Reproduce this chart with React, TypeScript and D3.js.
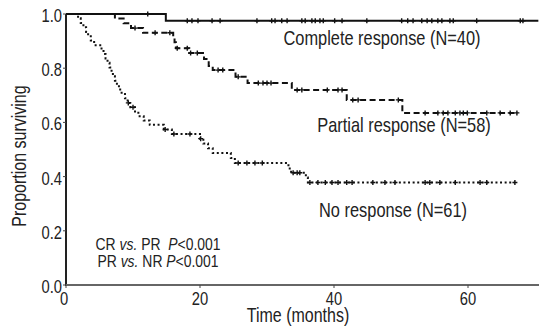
import React from 'react';
import * as d3 from 'd3';

// Kaplan-Meier step points [months, proportion surviving]
const crSteps: [number, number][] = [[0, 1], [14.9, 0.975]];
const crEnd = 70.5;
const crCensored = [12.2, 18.1, 18.8, 19.7, 21.8, 23.0, 28.5, 30.7, 31.2, 32.2, 33.0, 35.2, 35.7, 36.7, 37.2, 37.9, 38.4, 40.1, 41.2, 44.9, 50.1, 51.0, 51.8, 53.1, 53.9, 54.6, 55.5, 56.1, 57.3, 57.8, 61.3, 67.8, 68.2];

const prSteps: [number, number][] = [
  [0, 1], [7.3, 0.983], [8.6, 0.966], [9.7, 0.948], [11.5, 0.931], [16.0, 0.913], [16.2, 0.896],
  [16.4, 0.874], [18.4, 0.856], [20.6, 0.834], [21.3, 0.808], [21.9, 0.793], [25.3, 0.768],
  [27.1, 0.745], [33.7, 0.72], [41.9, 0.683], [50.2, 0.635],
];
const prEnd = 67.3;
const prCensored = [10.3, 13.3, 15.5, 16.6, 18.1, 18.6, 19.6, 22.7, 23.4, 25.7, 28.7, 29.4, 30.0, 30.6, 34.5, 35.2, 39.0, 40.6, 41.2, 42.8, 43.6, 49.6, 53.6, 55.5, 56.3, 57.0, 58.1, 58.8, 59.3, 59.9, 62.8, 64.8, 66.3, 67.3];

const nrSteps: [number, number][] = [
  [0, 1], [1.8, 0.984], [2.2, 0.967], [2.6, 0.951], [3.0, 0.934], [3.3, 0.918], [3.7, 0.902],
  [4.2, 0.885], [5.3, 0.869], [5.6, 0.852], [5.9, 0.836], [6.2, 0.82], [6.5, 0.803], [6.8, 0.787],
  [7.0, 0.77], [7.3, 0.754], [7.6, 0.738], [7.9, 0.721], [8.3, 0.705], [8.8, 0.689], [9.2, 0.672],
  [9.6, 0.656], [10.3, 0.64], [10.8, 0.623], [11.6, 0.607], [12.5, 0.591], [14.6, 0.574],
  [15.8, 0.557], [20.0, 0.54], [20.5, 0.522], [21.2, 0.505], [21.9, 0.487], [24.6, 0.469],
  [25.2, 0.45], [33.2, 0.43], [33.6, 0.414], [35.8, 0.397], [36.1, 0.378],
];
const nrEnd = 67.0;
const nrCensored = [9.3, 10.0, 14.8, 16.1, 18.5, 20.1, 25.7, 27.0, 28.2, 29.3, 33.9, 34.5, 34.9, 36.4, 37.6, 38.7, 39.7, 40.6, 41.9, 42.7, 45.8, 47.6, 49.1, 53.6, 54.3, 55.8, 58.1, 61.8, 62.8, 67.0];

const xTicks = [0, 20, 40, 60];
const yTicks = [0, 0.2, 0.4, 0.6, 0.8, 1.0];

const W = 539;
const H = 328;
const font = "'Liberation Sans', Arial, sans-serif";
const NARROW = 0.82; // condensed look of the original type

// text squeezed horizontally to mimic a condensed face
function Narrow({ x, y, size, rotate = 0, anchor = 'middle', children }: {
  x: number; y: number; size: number; rotate?: number; anchor?: string; children: React.ReactNode;
}) {
  return (
    <text transform={`translate(${x},${y}) rotate(${rotate}) scale(${NARROW},1)`}
      textAnchor={anchor} fontSize={size} fill="#222">
      {children}
    </text>
  );
}

export default function App() {
  const x = d3.scaleLinear().domain([0, 70]).range([66, 535]);
  const y = d3.scaleLinear().domain([0, 1]).range([285, 14]);

  const line = d3.line<[number, number]>()
    .x(d => x(d[0]))
    .y(d => y(d[1]))
    .curve(d3.curveStepAfter);

  const survAt = (steps: [number, number][], t: number) => {
    let s = 1;
    steps.forEach(([st, sv]) => { if (st <= t) s = sv; });
    return s;
  };

  const withEnd = (steps: [number, number][], end: number): [number, number][] =>
    [...steps, [end, steps[steps.length - 1][1]]];

  const curves = [
    { steps: prSteps, end: prEnd, censored: prCensored, dash: '6,3.5' },
    { steps: nrSteps, end: nrEnd, censored: nrCensored, dash: '2,2.6' },
    { steps: crSteps, end: crEnd, censored: crCensored, dash: null },
  ];

  return (
    <svg width={W} height={H} style={{ position: 'absolute', left: 0, top: 0, background: '#fff' }} fontFamily={font}>
      {/* axes */}
      <line x1={x(0)} x2={x(0)} y1={y(1)} y2={y(0) + 1} stroke="#222" strokeWidth={2} />
      <line x1={x(0)} x2={W} y1={y(0)} y2={y(0)} stroke="#666" strokeWidth={2} />
      {yTicks.map(t => (
        <g key={`y${t}`}>
          <line x1={x(0) - 3} x2={x(0)} y1={y(t)} y2={y(t)} stroke="#444" strokeWidth={1} />
          <Narrow x={x(0) - 4} y={y(t) + 8} size={18} anchor="end">{t.toFixed(1)}</Narrow>
        </g>
      ))}
      {xTicks.map(t => (
        <g key={`x${t}`}>
          <line x1={x(t)} x2={x(t)} y1={y(0)} y2={y(0) + 3} stroke="#444" strokeWidth={1} />
          <Narrow x={x(t) - (t === 0 ? 2 : 0)} y={305} size={18}>{t}</Narrow>
        </g>
      ))}
      <Narrow x={298} y={322} size={19.5}>Time (months)</Narrow>
      <Narrow x={26} y={156} size={19.5} rotate={-90}>Proportion surviving</Narrow>

      {/* survival curves */}
      {curves.map((c, i) => (
        <g key={i}>
          <path d={line(withEnd(c.steps, c.end)) || ''} fill="none" stroke="#111" strokeWidth={2}
            strokeDasharray={c.dash || undefined} />
          {c.censored.map((t, j) => {
            const cx = x(t);
            const cy = y(survAt(c.steps, t));
            return (
              <path key={j} d={`M${cx - 2.5},${cy}H${cx + 2.5}M${cx},${cy - 2.5}V${cy + 2.5}`}
                stroke="#111" strokeWidth={1.4} />
            );
          })}
        </g>
      ))}

      {/* labels */}
      <Narrow x={382} y={45} size={20}>Complete response (N=40)</Narrow>
      <Narrow x={404} y={132} size={20}>Partial response (N=58)</Narrow>
      <Narrow x={393} y={217} size={20}>No response (N=61)</Narrow>
      <Narrow x={158} y={250} size={17}>
        CR <tspan fontStyle="italic">vs.</tspan> PR{'\u00a0\u00a0'}<tspan fontStyle="italic">P</tspan>{'<0.001'}
      </Narrow>
      <Narrow x={158} y={267} size={17}>
        PR <tspan fontStyle="italic">vs.</tspan> NR <tspan fontStyle="italic">P</tspan>{'<0.001'}
      </Narrow>
    </svg>
  );
}
